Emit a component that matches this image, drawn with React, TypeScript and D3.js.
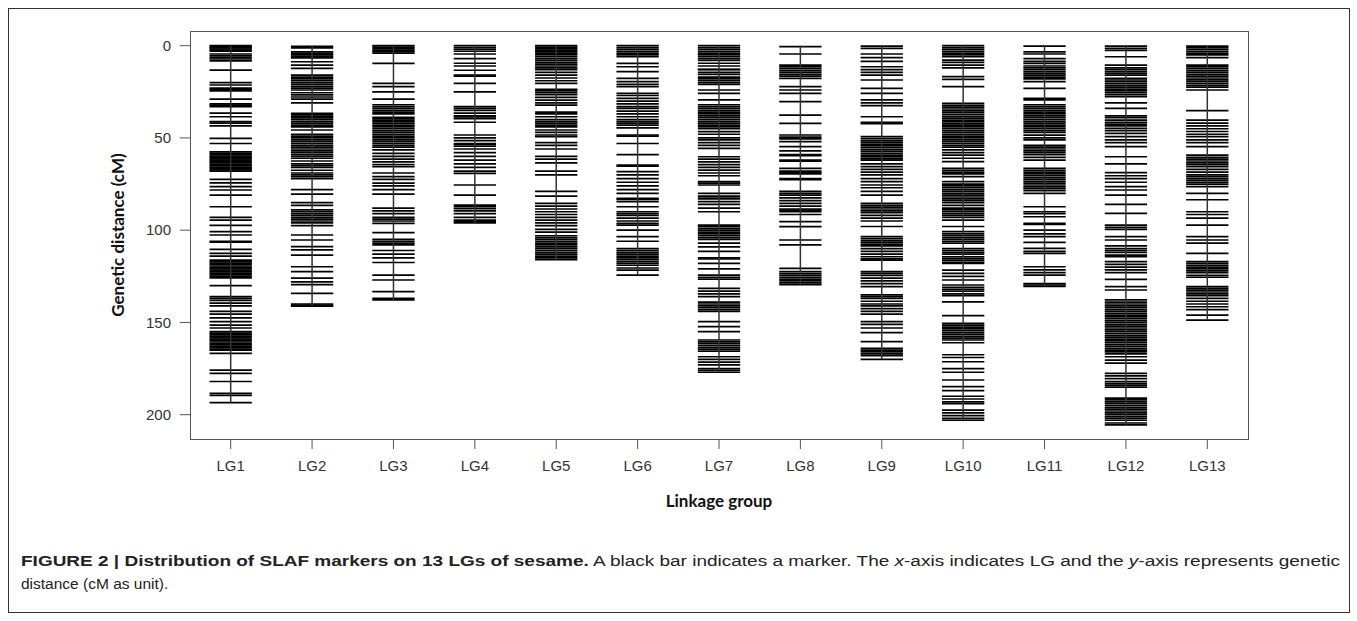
import React from 'react';
import * as d3 from 'd3';

// Linkage groups shown on the x axis
const lgNames = ['LG1', 'LG2', 'LG3', 'LG4', 'LG5', 'LG6', 'LG7', 'LG8', 'LG9', 'LG10', 'LG11', 'LG12', 'LG13'];

// Marker positions (cM) per linkage group
const lg1 = [0, 0.6, 1.2, 1.8, 2.4, 3, 4.5, 5.5, 6.5, 7.2, 8.2, 13.2, 20, 21.3, 23, 23.7, 24.5, 29, 31.5, 32.2, 33, 36.5, 38.5, 41.2, 42, 43.5, 50.2, 53,
  57.5, 58.3, 59, 59.8, 60.5, 61.3, 62, 62.8, 63.5, 64.3, 65, 65.8, 66.5, 67.3, 68, 72.4, 74.3, 76.4, 78.2, 81, 87.3, 93, 94.5, 97.4, 100.8, 102.6, 106, 106.5,
  110.4, 112.6, 114, 116.2, 117, 117.8, 118.6, 119.4, 120.2, 121, 121.8, 122.6, 123.4, 124.2, 125, 125.8, 130, 136, 137, 138, 139.5, 141, 144, 145.5, 147.5,
  149.5, 151.5, 153, 155, 155.8, 156.6, 157.4, 158.2, 159, 159.8, 160.6, 161.4, 162.2, 163, 163.8, 164.6, 165, 166.8, 175.8, 177.6, 182, 188.4, 189.5, 193.5];
const lg2 = [0.3, 1.2, 3.3, 4.2, 5, 5.8, 6.6, 8.7, 10.5, 12.3, 16, 17, 18, 19, 20, 21, 22, 23, 24, 25.5, 26.7, 27.8, 29, 31, 36.7, 37.5, 38.3, 39.1, 40, 41, 42,
  43, 44, 45.7, 48, 49, 50, 51, 52, 53, 54, 55, 56, 57, 58, 59, 60, 61, 62.5, 64, 65, 66, 67.5, 69, 70, 71, 72, 78, 80.5, 85, 86.5, 89, 90, 91, 92, 93, 94,
  95, 96, 97.5, 102.6, 105.3, 108.9, 110.7, 113.5, 119.8, 122.5, 126, 128, 129.5, 134.2, 140, 140.6, 141.2];
const lg3 = [0, 0.8, 1.6, 2.4, 3.2, 4, 9.6, 20.4, 22.2, 25, 29, 32, 33, 34, 35, 36, 37, 38.8, 39.5, 40.3, 41, 42, 43, 44, 45, 46, 47, 48, 49, 50, 51, 52, 53,
  54, 55, 56.5, 58.4, 60, 61.5, 63, 64.5, 65.6, 69, 71, 72.5, 74.5, 76, 78, 80.5, 88, 89.5, 91, 93, 94, 95, 96.3, 101.3, 105, 106, 107, 108, 111, 113, 115,
  117.5, 124.3, 127, 133.3, 137, 137.8];
const lg4 = [0, 1, 2, 3, 4.5, 7, 9.5, 11, 13.3, 15.9, 16.5, 20.4, 25, 33, 34, 35, 36.5, 38, 38.6, 39.5, 41.5, 48.4, 50, 51.5, 53, 53.6, 54.5, 56, 58, 60, 62,
  64, 66, 68, 69.2, 75.5, 81, 86.4, 87.3, 88.3, 89.5, 91, 93, 94.5, 95.3, 96];
const lg5 = [0, 0.8, 1.6, 2.4, 3.2, 4, 5, 6, 7, 8, 9, 10, 11, 12, 13, 14.5, 16, 17.5, 19, 20.4, 23.7, 24.5, 25.5, 26.5, 28, 29.5, 31, 32.2, 36, 37, 38.5, 40,
  41, 42, 43, 44, 45.7, 47, 48.4, 49.3, 52.5, 54, 56, 60, 61.5, 63.5, 68, 70, 79, 81.5, 85.5, 87, 88.5, 90, 91.5, 93, 94.5, 96, 97.5, 99.5, 101, 103, 104, 105,
  106, 107, 108, 109, 110, 111, 112, 113, 114, 115, 116];
const lg6 = [0, 1, 2, 3, 4, 5, 6, 9.6, 11.4, 14, 17.7, 19.5, 21, 22.2, 25.8, 27, 28.5, 30, 31.5, 33, 34, 35.5, 37, 38.5, 40, 41, 42, 43, 44.5, 48.4, 49, 53,
  59, 64.7, 65.3, 68.3, 70, 72, 74, 76, 78, 80, 82.7, 83.3, 84.5, 87.3, 90, 91, 92, 93.5, 95, 96.3, 97.2, 100, 103.5, 106, 110, 111, 112, 113, 114, 115, 116,
  117, 118, 119, 120.5, 121.6, 124.3];
const lg7 = [0, 1, 2, 3, 4, 5, 6, 7, 8, 9.5, 11, 12.8, 13, 14.5, 15.5, 17, 18, 19, 20, 21, 24, 25.8, 29.4, 32, 33, 34, 35, 36, 37, 38, 39, 40, 41, 42, 43, 44,
  45, 46.6, 48, 50, 51, 52.5, 54, 55.6, 60.2, 61.5, 63, 64.5, 66, 67.4, 69, 70.5, 73.7, 74.5, 75.5, 80, 81.5, 82, 83, 84.5, 86, 88, 90, 97.2, 98, 99, 100,
  101, 102, 103, 104, 105, 107, 109, 111.5, 115, 115.6, 118, 121, 124.3, 125.5, 126.5, 131.5, 133, 134.5, 136, 139, 140, 141, 142, 143, 144, 149.6, 152.3,
  155, 159.5, 160.5, 161.5, 162.5, 163.5, 164.5, 165.5, 168.6, 170, 171.5, 173, 175, 176, 177];
const lg8 = [0.5, 4.5, 10.5, 11.5, 12.5, 13.5, 14.5, 15.5, 16.5, 17.7, 22.2, 24, 25.8, 30.3, 37.6, 42.1, 48.4, 49.5, 50.5, 52, 54.7, 57, 59, 59.6, 62, 62.6,
  66.5, 68, 68.7, 69.5, 72, 72.6, 79, 80, 81, 82.5, 84, 85.5, 87, 88.5, 89.1, 90, 91.5, 95.4, 98.1, 105.3, 108, 120.7, 122.5, 123.5, 124.5, 125.5, 126.5,
  127.5, 128.5, 129.5];
const lg9 = [0.2, 1.5, 4.5, 6.5, 8.5, 11.4, 13, 14.5, 16, 18.6, 23.1, 25.8, 29.4, 31, 32.5, 38.5, 41.6, 42.2, 49.3, 50.3, 51.3, 52.3, 53.3, 54.3, 55.3, 56.3,
  57.3, 58.3, 59.3, 60.3, 61.3, 62, 64, 65.5, 67, 68.5, 70, 72, 73.7, 75.5, 77, 79, 81, 85.5, 86.5, 87.5, 88.5, 89.5, 90.5, 92, 93.5, 95, 98, 103.5, 104.5,
  105.5, 106.5, 107.5, 108.5, 110, 111.5, 113, 114.4, 115.5, 116.2, 122.5, 123.4, 124.5, 126, 127.5, 129, 130.6, 135, 136, 137, 138.5, 140, 141, 142.5, 144,
  145.5, 149.6, 151, 153, 155.5, 160.4, 164, 165, 166, 167, 168, 170];
const lg10 = [0, 1, 2, 3, 4, 5, 6, 7.8, 9, 10.5, 12, 16.8, 18.3, 22.2, 31.3, 32.3, 33.3, 34.3, 35.3, 36.3, 37.3, 38.3, 39.3, 40.3, 41.3, 42.3, 43, 44, 45, 46,
  47, 48, 49, 50, 51, 52, 53, 54, 55, 56.5, 58, 59.3, 61, 62.8, 66.5, 67.5, 68.5, 69.5, 71, 73.7, 75, 76, 77, 78, 79, 80, 81, 82, 83, 84, 85, 86.5, 88, 89,
  90, 91, 92, 93, 94.5, 98, 100.8, 102, 103, 104, 105, 106, 107, 110, 111, 112, 113, 114.5, 115.5, 116.5, 117.5, 118, 121.6, 123.4, 125, 127, 129.7, 131, 132,
  133, 134.5, 135.5, 138.8, 146.3, 150.5, 151.5, 152.5, 153.5, 154.5, 155.5, 156.5, 157.5, 158.5, 159.5, 161, 167.5, 169, 171.3, 175, 177, 181.2, 184.8, 187,
  190, 191.5, 193, 194, 197.5, 199, 200.5, 202, 203];
const lg11 = [0.2, 3.3, 4.5, 7, 8.5, 9.6, 11, 12, 13, 14, 15, 16, 17, 18, 19.5, 23.1, 28.5, 29.4, 32, 33, 34, 35, 36, 37, 38, 39, 40, 41, 42, 43, 44, 45, 46,
  47, 48.5, 50, 51, 54, 55, 56, 57, 58, 59, 60.5, 62, 66.5, 67.5, 68.5, 69.5, 70.5, 71.5, 72.5, 73.5, 74.5, 75.5, 76.5, 77.5, 78.5, 80, 87.3, 90, 91, 92.7,
  96.3, 96.9, 100, 102, 103.5, 106.6, 109.8, 111.5, 112.6, 119.8, 121.5, 123, 124.3, 129, 129.7, 130.5];
const lg12 = [0.2, 1.5, 2.5, 6, 10.5, 12, 13, 14, 15, 16, 17.7, 18.6, 19.5, 20.5, 21.5, 22.5, 23.5, 24.5, 25.5, 26.5, 27.6, 31, 34, 38, 39, 40.3, 41.5, 42.5,
  43.5, 44.8, 46, 47.5, 49.3, 51, 52.5, 54.7, 60.2, 64, 68.8, 70.5, 72, 74, 76.4, 78.2, 81, 86, 90.9, 97.2, 98.5, 99.5, 103.5, 105.3, 108.5, 110, 111, 112,
  113.5, 114.4, 117, 118.5, 120, 121.5, 123, 126.6, 130.6, 132.4, 137.8, 139, 140, 141, 142, 143, 144, 145, 146, 147, 148, 149, 150, 151, 152, 153, 154, 155,
  156, 157, 158, 159, 160, 161, 162, 163, 164, 165, 166, 167, 168.6, 170.4, 172, 177.6, 179, 180.5, 182, 183, 184, 185, 191, 192, 193, 194, 195, 196, 197,
  198, 199, 200, 201, 202, 203, 204.5, 205.5];
const lg13 = [0.2, 1, 2, 3, 4, 5, 6.5, 10.5, 11.5, 12.5, 13.5, 14.5, 15.5, 16.5, 17.5, 18.5, 19.5, 20.5, 21.5, 22.5, 24, 35.2, 40.3, 42, 43.5, 45, 46.5, 48,
  49.3, 51, 52.5, 54.7, 59.3, 60.5, 61.5, 62.5, 63.5, 64.5, 65.5, 67, 68.5, 70, 71, 72, 73, 74, 75, 76.4, 80, 83.5, 90, 91.5, 93.5, 97.2, 103.5, 105.3, 107,
  112.6, 117, 118, 119, 120, 121, 122, 123, 124.5, 125.5, 130.6, 131.5, 132.5, 133.5, 134.5, 135.5, 137, 138.5, 140, 141.5, 143, 146, 148.7];

const markerSets = [lg1, lg2, lg3, lg4, lg5, lg6, lg7, lg8, lg9, lg10, lg11, lg12, lg13];

// y-axis tick values
const yTicks = [0, 50, 100, 150, 200];

export default function App() {
  const width = 1357;
  const height = 621;
  const box = { left: 190, right: 1248, top: 31, bottom: 439 };

  const x = d3.scaleBand()
    .domain(lgNames)
    .range([box.left, box.right])
    .paddingInner(0.48)
    .paddingOuter(0.24);

  const y = d3.scaleLinear()
    .domain([0, 200])
    .range([45.7, 414.7]);

  const axisFont = '"Liberation Sans", Arial, sans-serif';
  const titleFont = 'Lato, "Open Sans", sans-serif';

  return (
    <svg width={width} height={height} style={{ position: 'absolute', left: 0, top: 0, background: '#fff' }}>
      {/* figure frame */}
      <rect x={8.5} y={8.5} width={1341} height={604} fill="none" stroke="#333" strokeWidth={1} />

      {/* plot box */}
      <rect x={box.left + 0.5} y={box.top + 0.5} width={box.right - box.left} height={box.bottom - box.top}
        fill="none" stroke="#555" strokeWidth={1} />

      {/* markers */}
      {lgNames.map((name, i) => {
        const x0 = x(name) || 0;
        const cx = x0 + x.bandwidth() / 2;
        const data = markerSets[i];
        const maxV = d3.max(data) || 0;
        return (
          <g key={name}>
            {data.map((v, j) => (
              <line key={j} x1={x0} x2={x0 + x.bandwidth()} y1={y(v)} y2={y(v)} stroke="#000" strokeWidth={1.7} />
            ))}
            <line x1={cx} x2={cx} y1={y(0)} y2={y(maxV)} stroke="#333" strokeWidth={1.5} />
          </g>
        );
      })}

      {/* y axis */}
      {yTicks.map(t => (
        <g key={t}>
          <line x1={box.left - 10} x2={box.left} y1={y(t)} y2={y(t)} stroke="#555" strokeWidth={1} />
          <text x={box.left - 19} y={y(t)} dy="0.35em" textAnchor="end" fontFamily={axisFont} fontSize={15} fill="#333">{t}</text>
        </g>
      ))}
      <text transform={`translate(118,${(box.top + box.bottom) / 2}) rotate(-90)`} textAnchor="middle" dy="0.35em"
        fontFamily={titleFont} fontWeight="bold" fontSize={17} fill="#111">Genetic distance (cM)</text>

      {/* x axis */}
      {lgNames.map(name => {
        const cx = (x(name) || 0) + x.bandwidth() / 2;
        return (
          <g key={name}>
            <line x1={cx} x2={cx} y1={box.bottom} y2={box.bottom + 10} stroke="#555" strokeWidth={1} />
            <text x={cx} y={466} dy="0.35em" textAnchor="middle" fontFamily={axisFont} fontSize={15} fill="#333">{name}</text>
          </g>
        );
      })}
      <text x={(box.left + box.right) / 2} y={501} dy="0.35em" textAnchor="middle"
        fontFamily={titleFont} fontWeight="bold" fontSize={17} fill="#111">Linkage group</text>

      {/* caption */}
      <text x={21} y={566} textLength={1319} lengthAdjust="spacingAndGlyphs" fontFamily={axisFont} fontSize={15.5} fill="#222">
        <tspan fontWeight="bold">FIGURE 2 | Distribution of SLAF markers on 13 LGs of sesame.</tspan>
        {' A black bar indicates a marker. The '}
        <tspan fontStyle="italic">x</tspan>
        {'-axis indicates LG and the '}
        <tspan fontStyle="italic">y</tspan>
        {'-axis represents genetic'}
      </text>
      <text x={21} y={589} fontFamily={axisFont} fontSize={15.5} fill="#222">distance (cM as unit).</text>
    </svg>
  );
}
